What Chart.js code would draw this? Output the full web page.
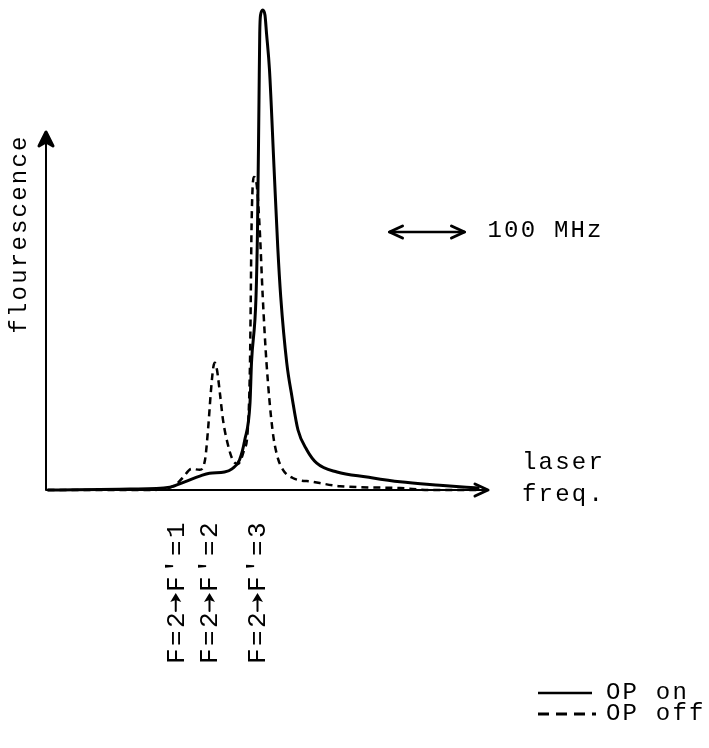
<!DOCTYPE html>
<html>
<head>
<meta charset="utf-8">
<script src="https://cdn.jsdelivr.net/npm/chart.js@4"></script>
<style>
  body { margin: 0; background: #fff; }
  #wrap { width: 709px; height: 748px; }
</style>
</head>
<body>
<div id="wrap"><canvas id="spectrum"></canvas></div>
<script>
// laser detuning (MHz, relative to the F=2->F'=3 peak) and fluorescence (arb. units)
const onFreq = [-287, -177, -124, -104, -84, -71, -51, -41, -31, -24, -17, -15, -9, -7, -5, -4, -3, 0, 3, 5, 9, 15, 20, 24, 32, 39, 47, 59, 72, 99, 139, 183, 236, 289];
const onSignal = [0, 0.2, 0.6, 1.7, 2.9, 3.5, 3.75, 4.4, 6.25, 10.4, 18.1, 26.5, 40.2, 54.2, 81.3, 95.2, 98.9, 100, 98.9, 95.2, 87.5, 67.3, 50.6, 40.2, 26.5, 19.4, 12.5, 8.3, 5.6, 3.75, 2.7, 1.7, 1.0, 0.4];

const offFreq = [-287, -151, -117, -107, -95, -84, -77, -73, -69, -66, -64, -61, -57, -53, -47, -40, -33, -25, -20, -17, -16, -15, -12, -8, -4, 0, 5, 13, 19, 27, 40, 67, 103, 183, 223, 289];
const offSignal = [0, 0, 1.0, 2.5, 4.4, 4.2, 6.25, 12.5, 20.8, 25.5, 26.5, 25.0, 20.0, 14.6, 9.8, 6.25, 5.4, 8.3, 12.5, 26.5, 39.6, 54.2, 65.2, 63.5, 54.2, 40.2, 26.5, 12.5, 7.3, 4.2, 2.5, 1.7, 0.8, 0.4, 0, 0];

// transition labels: lower level, upper level
const transitionFrom = ["F=2", "F=2", "F=2"];
const transitionTo = ["F'=1", "F'=2", "F'=3"];
const transitionFreq = [-116, -71, -7];

const seriesNames = ["OP on", "OP off"];
const scaleBarStart = 169; // MHz
const scaleBarWidth = 100; // MHz
const scaleBarLevel = 53.75;

const monoFont = "'Liberation Mono', 'DejaVu Sans Mono', monospace";

function toPoints(xs, ys) {
  return xs.map((x, i) => ({ x: x, y: ys[i] }));
}

function arrowHead(ctx, x, y, dir) {
  ctx.beginPath();
  if (dir === "up") {
    ctx.moveTo(x - 6, y + 13);
    ctx.lineTo(x, y);
    ctx.lineTo(x + 6, y + 13);
  } else if (dir === "right") {
    ctx.moveTo(x - 13, y - 6);
    ctx.lineTo(x, y);
    ctx.lineTo(x - 13, y + 6);
  } else {
    ctx.moveTo(x + 13, y - 6);
    ctx.lineTo(x, y);
    ctx.lineTo(x + 13, y + 6);
  }
  ctx.stroke();
}

const sketchPlugin = {
  id: "sketch",
  afterDraw(chart) {
    const ctx = chart.ctx;
    const area = chart.chartArea;
    const xs = chart.scales.x;
    const ys = chart.scales.y;
    const x0 = area.left;
    const y0 = ys.getPixelForValue(0);

    ctx.save();
    ctx.strokeStyle = "#000";
    ctx.fillStyle = "#000";
    ctx.lineCap = "round";
    ctx.lineJoin = "round";

    // axes
    ctx.lineWidth = 2;
    ctx.beginPath();
    ctx.moveTo(x0, y0);
    ctx.lineTo(x0, 135);
    ctx.moveTo(x0, y0);
    ctx.lineTo(area.right - 2, y0);
    ctx.stroke();
    ctx.lineWidth = 3;
    ctx.beginPath();
    ctx.moveTo(x0, 132);
    ctx.lineTo(x0 - 7, 146);
    ctx.lineTo(x0, 142);
    ctx.lineTo(x0 + 7, 146);
    ctx.closePath();
    ctx.fill();
    ctx.stroke();
    arrowHead(ctx, area.right - 2, y0, "right");

    // axis titles
    ctx.font = "24px " + monoFont;
    ctx.letterSpacing = "2.2px";
    ctx.textBaseline = "middle";
    ctx.textAlign = "center";
    ctx.save();
    ctx.translate(20, 234);
    ctx.rotate(-Math.PI / 2);
    ctx.fillText("flourescence", 0, 0);
    ctx.restore();

    ctx.textAlign = "left";
    ctx.fillText("laser", 522, 463);
    ctx.fillText("freq.", 522, 495);

    // 100 MHz scale bar
    const sb1 = xs.getPixelForValue(scaleBarStart);
    const sb2 = xs.getPixelForValue(scaleBarStart + scaleBarWidth);
    const sby = ys.getPixelForValue(scaleBarLevel);
    ctx.lineWidth = 2.5;
    ctx.beginPath();
    ctx.moveTo(sb1, sby);
    ctx.lineTo(sb2, sby);
    ctx.stroke();
    ctx.lineWidth = 3;
    arrowHead(ctx, sb1, sby, "left");
    arrowHead(ctx, sb2, sby, "right");
    ctx.fillText(scaleBarWidth + " MHz", sb2 + 23, sby - 1);

    // transition labels (rotated, arrow drawn as a full-width stroke)
    ctx.font = "26px " + monoFont;
    ctx.letterSpacing = "2.4px";
    ctx.textAlign = "left";
    transitionFreq.forEach((f, i) => {
      const px = xs.getPixelForValue(f);
      const w1 = ctx.measureText(transitionFrom[i]).width;
      const wa = 18;
      const w2 = ctx.measureText(transitionTo[i]).width;
      const start = -(w1 + wa + w2) / 2;
      ctx.save();
      ctx.translate(px, 592);
      ctx.rotate(-Math.PI / 2);
      ctx.fillText(transitionFrom[i], start, 1);
      const a1 = start + w1 - 1;
      const a2 = a1 + wa;
      ctx.lineWidth = 2;
      ctx.beginPath();
      ctx.moveTo(a1, 0);
      ctx.lineTo(a2 - 4, 0);
      ctx.stroke();
      ctx.beginPath();
      ctx.moveTo(a2, 0);
      ctx.lineTo(a2 - 9, -5.5);
      ctx.lineTo(a2 - 7, 0);
      ctx.lineTo(a2 - 9, 5.5);
      ctx.closePath();
      ctx.fill();
      ctx.fillText(transitionTo[i], a2 + 1, 1);
      ctx.restore();
    });

    // legend
    ctx.font = "24px " + monoFont;
    ctx.letterSpacing = "2.2px";
    ctx.textAlign = "left";
    ctx.lineCap = "butt";
    ctx.lineWidth = 2.5;
    ctx.beginPath();
    ctx.moveTo(538, 693);
    ctx.lineTo(592, 693);
    ctx.stroke();
    ctx.fillText(seriesNames[0], 606, 693);
    ctx.setLineDash([11, 7]);
    ctx.lineWidth = 3;
    ctx.beginPath();
    ctx.moveTo(538, 714);
    ctx.lineTo(596, 714);
    ctx.stroke();
    ctx.setLineDash([]);
    ctx.fillText(seriesNames[1], 606, 714);

    ctx.restore();
  }
};

new Chart(document.getElementById("spectrum"), {
  type: "line",
  data: {
    datasets: [
      {
        label: seriesNames[0],
        data: toPoints(onFreq, onSignal),
        borderColor: "#000",
        borderWidth: 3,
        pointRadius: 0,
        cubicInterpolationMode: "monotone",
        fill: false,
      },
      {
        label: seriesNames[1],
        data: toPoints(offFreq, offSignal),
        borderColor: "#000",
        borderWidth: 2.5,
        borderDash: [7, 5],
        pointRadius: 0,
        cubicInterpolationMode: "monotone",
        fill: false,
      },
    ],
  },
  options: {
    responsive: true,
    maintainAspectRatio: false,
    animation: false,
    clip: false,
    layout: { padding: { left: 46, right: 219, top: 10, bottom: 258 } },
    scales: {
      x: { type: "linear", min: -289, max: 303, display: false },
      y: { min: 0, max: 100, display: false },
    },
    plugins: {
      legend: { display: false },
      tooltip: { enabled: false },
    },
  },
  plugins: [sketchPlugin],
});
</script>
</body>
</html>
